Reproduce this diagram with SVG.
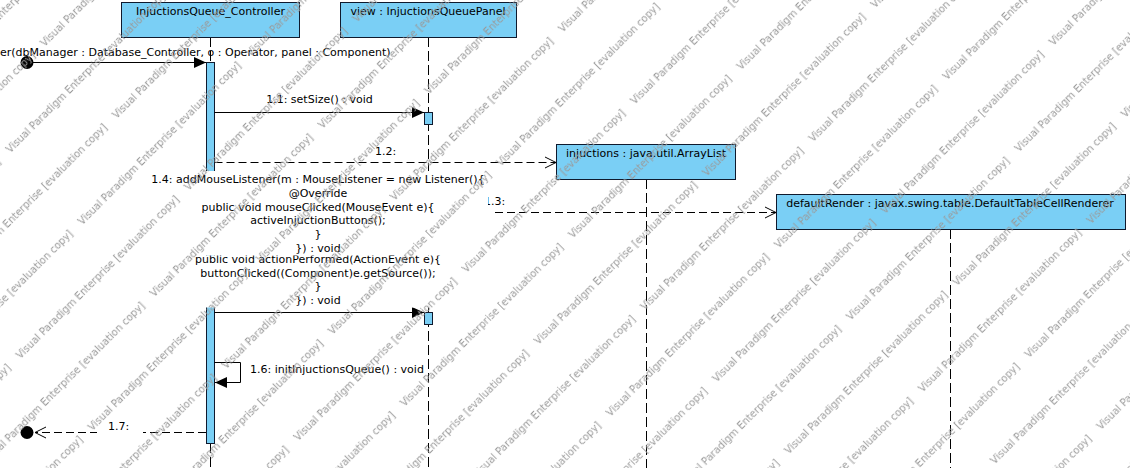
<svg xmlns="http://www.w3.org/2000/svg" width="1130" height="468" viewBox="0 0 1130 468">
  <style>
    text { font-family: "DejaVu Sans", "Liberation Sans", sans-serif; font-size: 11px; fill: #000; }
    .head { fill: #7acff5; stroke: #0f1a2e; stroke-width: 1; }
    .bar { fill: #7acff5; stroke: #0f1a2e; stroke-width: 1; }
    .life { stroke: #000; stroke-width: 1; stroke-dasharray: 10 4; fill: none; }
    .call { stroke: #000; stroke-width: 1; fill: none; }
    .reply { stroke: #000; stroke-width: 1; stroke-dasharray: 8 4; fill: none; }
    .lbl-bg { fill: #fff; }
    .mid { text-anchor: middle; }
    .wm text { font-size: 10px; fill: #9a9a9a; }
  </style>
  <defs>
    <marker id="solidHead" markerUnits="userSpaceOnUse" viewBox="0 0 12 11" refX="12" refY="5.5" markerWidth="12" markerHeight="11" orient="auto">
      <path d="M0,0 L12,5.5 L0,11 Z" fill="#000"/>
    </marker>
    <marker id="openHead" markerUnits="userSpaceOnUse" viewBox="-1 -1 13 13" refX="11" refY="5.5" markerWidth="13" markerHeight="13" orient="auto">
      <path d="M0,0 L11,5.5 L0,11" fill="none" stroke="#000" stroke-width="1"/>
    </marker>
    <!-- evaluation watermark tile, repeated diagonally -->
    <pattern id="wm" class="wm" patternUnits="userSpaceOnUse" width="238" height="101.8" patternTransform="rotate(-45)">
      <text x="136.8" y="14.4">Visual Paradigm Enterprise [evaluation copy]</text>
      <text x="-101.2" y="14.4">Visual Paradigm Enterprise [evaluation copy]</text>
      <text x="236.2" y="65.3">Visual Paradigm Enterprise [evaluation copy]</text>
      <text x="-1.8" y="65.3">Visual Paradigm Enterprise [evaluation copy]</text>
    </pattern>
  </defs>

  <rect x="0" y="0" width="1130" height="468" fill="#fff"/>

  <!-- lifelines -->
  <g id="controller">
    <line class="life" x1="210.5" y1="37" x2="210.5" y2="468"/>
    <rect class="head" x="121.5" y="2.5" width="178" height="35"/>
    <text class="mid" x="210.5" y="14.5">InjuctionsQueue_Controller</text>
    <rect class="bar" x="206.5" y="62.5" width="8" height="381"/>
  </g>

  <g id="view">
    <line class="life" x1="428.5" y1="37" x2="428.5" y2="468"/>
    <rect class="head" x="340.5" y="2.5" width="176" height="35"/>
    <text class="mid" x="428" y="14.5">view : InjuctionsQueuePanel</text>
    <rect class="bar" x="424.5" y="112.5" width="8" height="12"/>
    <rect class="bar" x="424.5" y="312.5" width="8" height="12"/>
  </g>

  <g id="injuctions">
    <line class="life" x1="646.5" y1="179" x2="646.5" y2="468"/>
    <rect class="head" x="556.5" y="144.5" width="179" height="35"/>
    <text class="mid" x="646" y="156.5">injuctions : java.util.ArrayList</text>
  </g>

  <g id="defaultRender">
    <line class="life" x1="950.5" y1="229" x2="950.5" y2="468"/>
    <rect class="head" x="776.5" y="194.5" width="349" height="35"/>
    <text class="mid" x="950" y="206.5">defaultRender : javax.swing.table.DefaultTableCellRenderer</text>
  </g>

  <!-- messages -->
  <g id="connectors">
    <!-- found message (constructor call) -->
    <circle cx="27" cy="62.5" r="6.5" fill="#000"/>
    <line class="call" x1="27" y1="62.5" x2="206" y2="62.5" marker-end="url(#solidHead)"/>
    <text x="0" y="56">er(dbManager : Database_Controller, o : Operator, panel : Component)</text>

    <!-- 1.1 -->
    <line class="call" x1="214.5" y1="112.5" x2="424" y2="112.5" marker-end="url(#solidHead)"/>
    <text class="mid" x="319.5" y="103">1.1: setSize() : void</text>

    <!-- 1.2 -->
    <line class="reply" x1="214.5" y1="162.5" x2="556" y2="162.5" marker-end="url(#openHead)"/>
    <text x="375" y="155">1.2:</text>

    <!-- 1.3 -->
    <line class="reply" x1="495" y1="212.5" x2="776" y2="212.5" marker-end="url(#openHead)"/>
    <text x="484" y="205">1.3:</text>

    <!-- 1.5 -->
    <line class="call" x1="214.5" y1="312.5" x2="424" y2="312.5" marker-end="url(#solidHead)"/>
    <rect class="lbl-bg" x="196" y="255.5" width="244" height="52"/>
    <text class="mid" x="318" y="262.8">public void actionPerformed(ActionEvent e){</text>
    <text class="mid" x="318" y="276.5">buttonClicked((Component)e.getSource());</text>
    <text class="mid" x="318" y="290.2">}</text>
    <text class="mid" x="318" y="303.9">}) : void</text>

    <!-- 1.4 -->
    <rect class="lbl-bg" x="148" y="171" width="340" height="84.5"/>
    <text class="mid" x="318" y="183">1.4: addMouseListener(m : MouseListener = new Listener(){</text>
    <text class="mid" x="318" y="196.8">@Override</text>
    <text class="mid" x="318" y="210.6">public void mouseClicked(MouseEvent e){</text>
    <text class="mid" x="318" y="224.4">activeInjuctionButtons();</text>
    <text class="mid" x="318" y="238.2">}</text>
    <text class="mid" x="318" y="252">}) : void</text>

    <!-- 1.6 self call -->
    <path class="call" d="M214.5,362.5 H240.5 V382.5 H215" marker-end="url(#solidHead)"/>
    <text x="250" y="373">1.6: initInjuctionsQueue() : void</text>

    <!-- 1.7 return -->
    <circle cx="27" cy="432.5" r="6.5" fill="#000"/>
    <line class="reply" x1="206" y1="432.5" x2="35" y2="432.5" marker-end="url(#openHead)"/>
    <rect class="lbl-bg" x="97" y="420" width="46" height="15"/>
    <text x="108" y="430">1.7:</text>
  </g>

  <!-- watermark overlay -->
  <rect x="0" y="0" width="1130" height="468" fill="url(#wm)"/>
</svg>
